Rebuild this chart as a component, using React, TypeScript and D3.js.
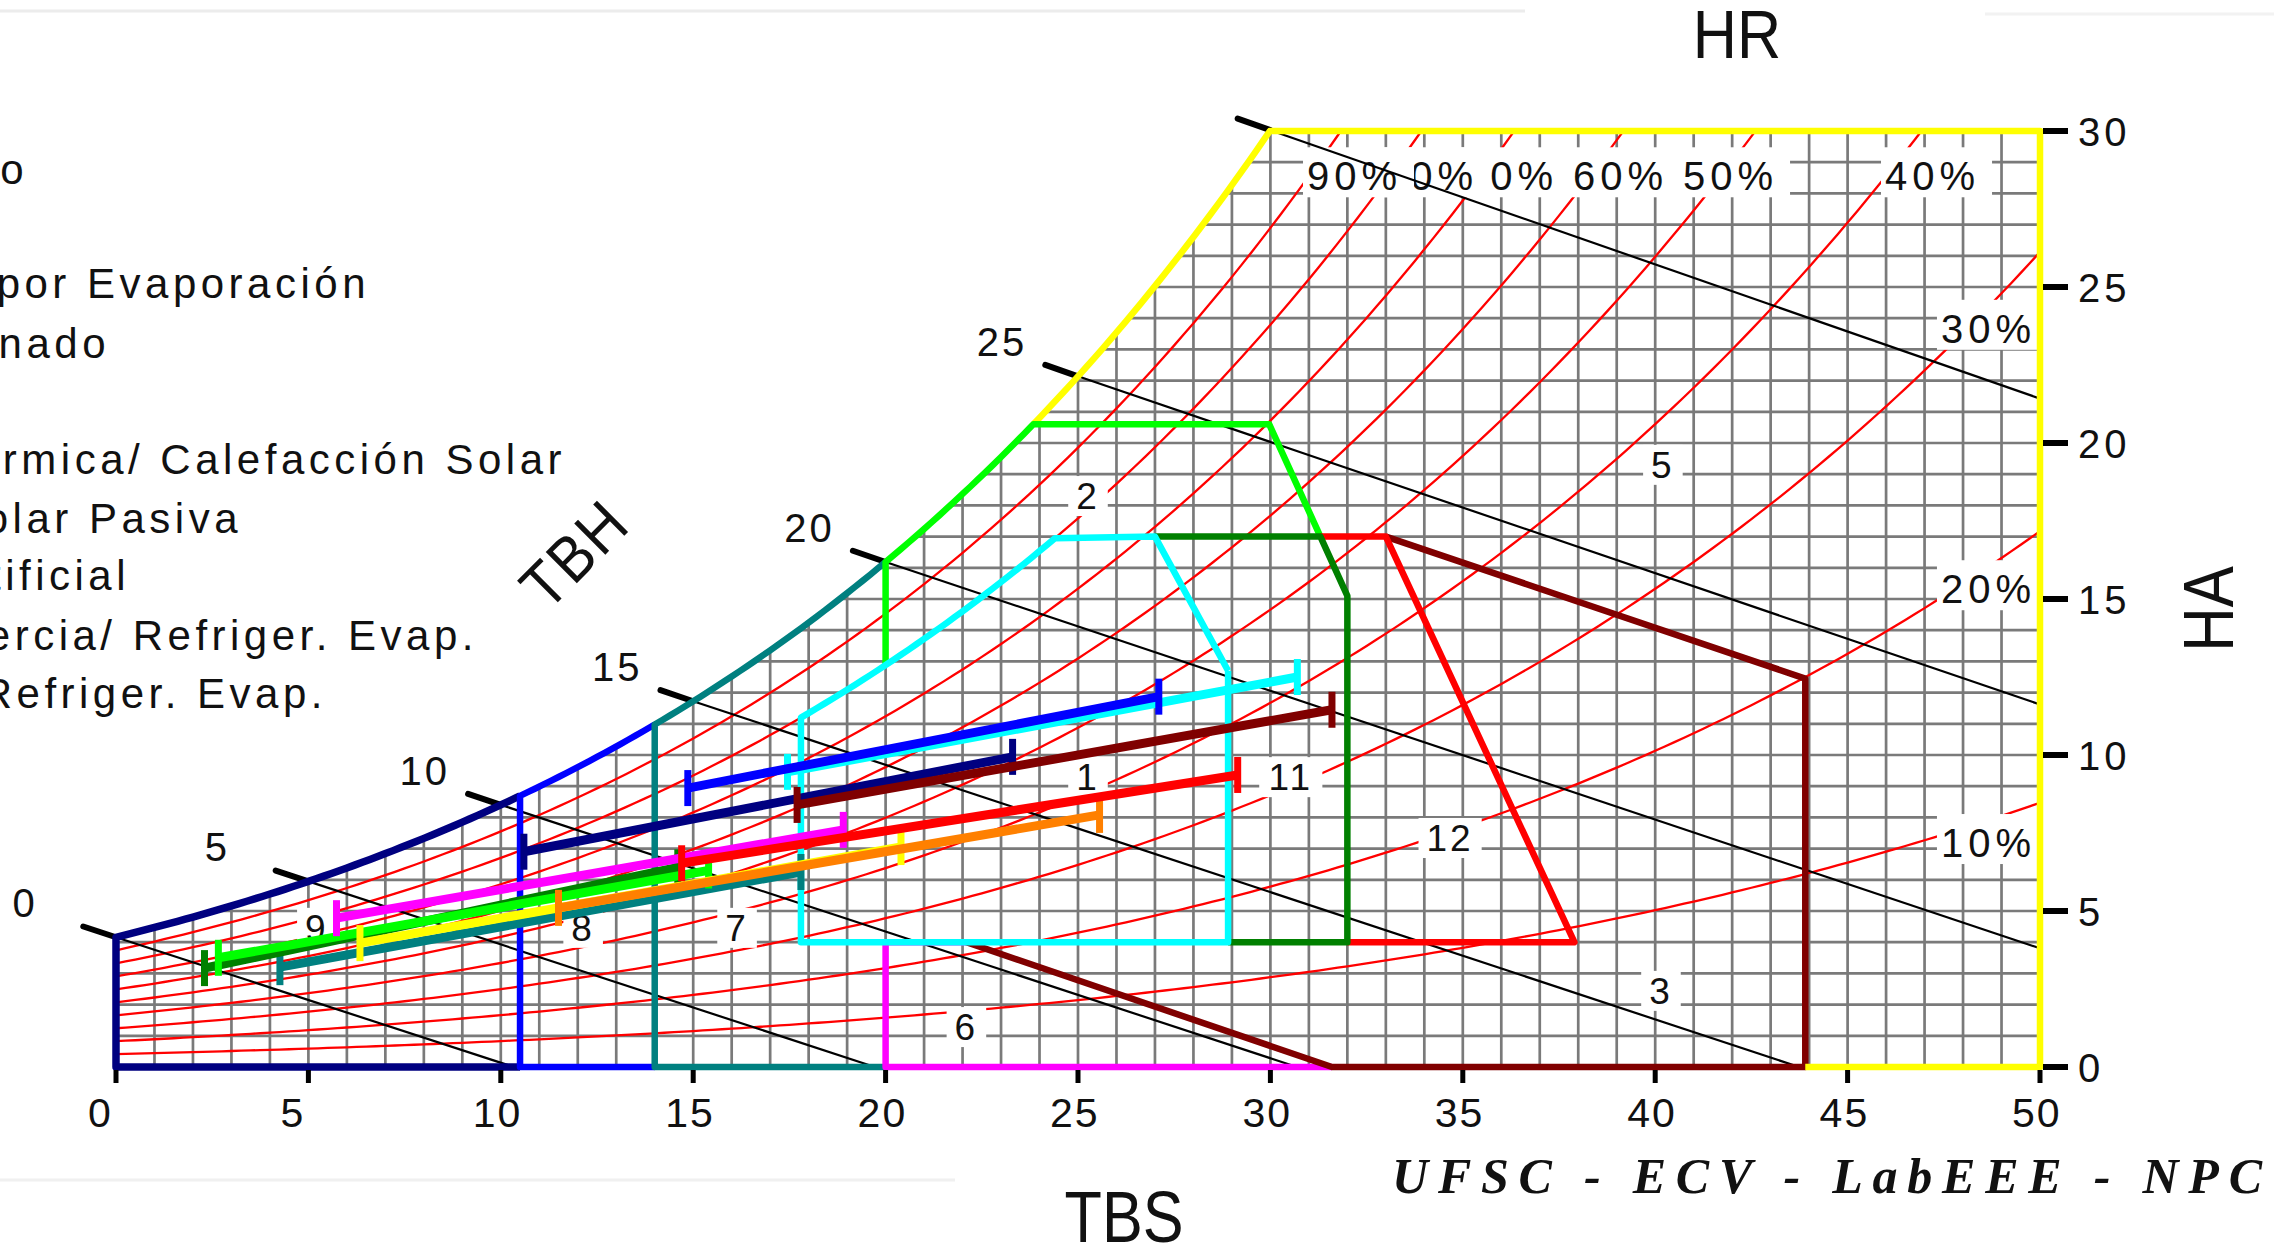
import React from 'react';
import * as d3 from 'd3';

// ---- ejes y curvas de referencia ----
const tbsTicks = [0, 5, 10, 15, 20, 25, 30, 35, 40, 45, 50];
const haTicks = [0, 5, 10, 15, 20, 25, 30];
const rhLevels = [10, 20, 30, 40, 50, 60, 70, 80, 90];
const tbhLevels = [0, 5, 10, 15, 20, 25, 30];
const tbhLabels = ['0', '5', '10', '15', '20', '25'];

// presion local (kPa) ajustada a la curva de saturacion del grafico
const PRESSURE = 92;

// ---- zonas bioclimaticas (TBS, HA) ----
type ZonePt = [number, number] | { sat: [number, number | 'top'] } | { rh: [number, number, number] };

const zoneNavy: ZonePt[] = [[10.5, 0], [0, 0], { sat: [0, 10.5] }];
const zoneBlue: ZonePt[] = [[14, 0], [10.5, 0], { sat: [10.5, 14] }];
const zoneTeal: ZonePt[] = [[20, 0], [14, 0], { sat: [14, 20] }];
const zoneMagenta: ZonePt[] = [[22.1, 4], [20, 4], [20, 0], [31.6, 0]];
const zoneBrown: ZonePt[] = [[22.1, 4], [31.6, 0], [43.9, 0], [43.9, 12.45], [33, 17]];
const zoneYellow: ZonePt[] = [{ sat: [23.84, 'top'] }, [50, 30], [50, 0], [43.9, 0]];
const zoneGreen: ZonePt[] = [[20, 12.9], { sat: [20, 23.84] }, [29.97, 20.6], [31.3, 17]];
const zoneRed: ZonePt[] = [[31.3, 17], [33, 17], [37.9, 4], [32, 4]];
const zoneDarkGreen: ZonePt[] = [[27, 17], [31.3, 17], [32, 15.1], [32, 4], [28.9, 4]];
const zoneCyan: ZonePt[] = [[28.9, 12.7], [28.9, 4], [17.8, 4], { rh: [80, 17.8, 24.4] }, [27, 17], [28.9, 12.7]];

const zones = [
  { pts: zoneNavy, color: '#000080' },
  { pts: zoneBlue, color: '#0000ff' },
  { pts: zoneTeal, color: '#008080' },
  { pts: zoneMagenta, color: '#ff00ff' },
  { pts: zoneBrown, color: '#800000' },
  { pts: zoneYellow, color: '#ffff00' },
  { pts: zoneGreen, color: '#00ff00' },
  { pts: zoneRed, color: '#ff0000' },
  { pts: zoneDarkGreen, color: '#008000' },
  { pts: zoneCyan, color: '#00ffff' },
];

const zoneLabels = [
  { text: '1', t: 25.26, ha: 9.29 },
  { text: '2', t: 25.26, ha: 18.3 },
  { text: '3', t: 40.15, ha: 2.44 },
  { text: '5', t: 40.2, ha: 19.3 },
  { text: '6', t: 22.1, ha: 1.28 },
  { text: '7', t: 16.14, ha: 4.46 },
  { text: '8', t: 12.14, ha: 4.46 },
  { text: '9', t: 5.22, ha: 4.46 },
  { text: '11', t: 30.53, ha: 9.29 },
  { text: '12', t: 34.67, ha: 7.34 },
];

// ---- lineas mensuales (TBS min/max con su HA) ----
const lineColors = ['#008080', '#008000', '#00ff00', '#ffff00', '#ff8000', '#ff00ff', '#ff0000', '#000080', '#800000', '#00ffff', '#0000ff'];
const tbsMin = [4.26, 2.3, 2.66, 6.34, 11.5, 5.73, 14.7, 10.6, 17.7, 17.45, 14.86];
const haAtMin = [3.2, 3.17, 3.5, 3.97, 5.1, 4.77, 6.53, 6.9, 8.4, 9.46, 8.94];
const tbsMax = [17.8, 14.6, 15.4, 20.4, 25.56, 18.9, 29.15, 23.3, 31.6, 30.7, 27.1];
const haAtMax = [6.25, 6.4, 6.3, 7.05, 8.08, 7.6, 9.36, 9.94, 11.45, 12.5, 11.87];

const legendTexts = [
  '3- Inercia Térmica para Enfriamiento',
  '4- Refrigeración por Evaporación',
  '5- Aire Acondicionado',
  '7- Inercia Térmica/ Calefacción Solar',
  '8- Calefacción Solar Pasiva',
  '9- Calefacción Artificial',
  '11- Ventilación/ Inercia/ Refriger. Evap.',
  '12- Inercia/ Refriger. Evap.',
];
const legendEndX = [28, 370, 110, 566, 242, 130, 478, 327];
const legendBaseY = [184, 298, 358, 474, 533, 590, 650, 708];

// posicion horizontal de las etiquetas HR superiores (40% ... 90%)
const rhTopLabelX = [1885, 1683, 1573, 1463, 1383, 1307];

const FONT = '"Liberation Sans", Arial, sans-serif';

// ---- psicrometria ----
const psat = (t: number) => 0.61094 * Math.exp((17.625 * t) / (t + 243.04));
const wFromPv = (pv: number) => (622 * pv) / (PRESSURE - pv);
const wSat = (t: number) => wFromPv(psat(t));
const wRh = (t: number, rh: number) => wFromPv((rh / 100) * psat(t));
const tFromPs = (ps: number) => {
  const a = Math.log(ps / 0.61094);
  return (243.04 * a) / (17.625 - a);
};
const tRh = (w: number, rh: number) => tFromPs(((w * PRESSURE) / (622 + w)) / (rh / 100));
const wWetBulb = (t: number, twb: number) => {
  const ws = wSat(twb) / 1000;
  return (((2501 - 2.326 * twb) * ws - 1.006 * (t - twb)) / (2501 + 1.86 * t - 4.186 * twb)) * 1000;
};
const T_TOP = tRh(30, 100);

const samples = (a: number, b: number, step = 0.2) => {
  const arr = d3.range(a, b, step);
  arr.push(b);
  return arr;
};

const expand = (pts: ZonePt[]): [number, number][] => {
  const out: [number, number][] = [];
  pts.forEach((p) => {
    if (Array.isArray(p)) out.push(p);
    else if ('sat' in p) {
      const t1 = p.sat[1] === 'top' ? T_TOP : p.sat[1];
      samples(p.sat[0], t1).forEach((t) => out.push([t, wSat(t)]));
    } else {
      const [rh, a, b] = p.rh;
      samples(a, b).forEach((t) => out.push([t, wRh(t, rh)]));
    }
  });
  return out;
};

const textW = (s: string, fs: number, ls: number) =>
  s.split('').reduce((acc, c) => acc + (c === '%' ? 0.889 : 0.556) * fs + ls, 0);

const App = () => {
  const x = d3.scaleLinear().domain([0, 50]).range([116, 2040]);
  const y = d3.scaleLinear().domain([0, 30]).range([1067, 131]);
  const line = d3.line<[number, number]>().x((d) => x(d[0])).y((d) => y(d[1]));

  const clipPts: [number, number][] = [
    ...samples(0, T_TOP).map((t) => [t, wSat(t)] as [number, number]),
    [50, 30], [50, 0], [0, 0],
  ];

  const rhPaths = rhLevels.map((rh) => line(samples(0, 50, 0.25).map((t) => [t, Math.min(wRh(t, rh), 34)] as [number, number])));

  const wetBulb = tbhLevels.map((twb) => {
    const ws = wSat(twb);
    const w50 = wWetBulb(50, twb);
    const end: [number, number] = w50 > 0 ? [50, w50] : [twb + ((2501 - 2.326 * twb) * ws / 1000) / 1.006, 0];
    const tickStart: [number, number] = [twb - 0.85, wWetBulb(twb - 0.85, twb)];
    return { twb, start: [twb, ws] as [number, number], end, tickStart };
  });

  const rhLabelItems = rhLevels.map((rh) => {
    const txt = `${rh}%`;
    const tw = textW(txt, 40, 5);
    if (rh >= 40) {
      return { txt, lx: rhTopLabelX[(rh - 40) / 10], by: y(28.1), tw };
    }
    return { txt, lx: 2036 - tw, by: y(wRh(48.7, rh) - 1.2), tw };
  });

  return (
    <svg width={2274} height={1253} viewBox="0 0 2274 1253" style={{ position: 'absolute', left: 0, top: 0, background: '#fff' }}>
      <defs>
        <clipPath id="chartArea">
          <path d={line(clipPts) + 'Z'} />
        </clipPath>
      </defs>
      <rect x={0} y={0} width={2274} height={1253} fill="#fff" />
      <line x1={0} x2={1525} y1={11} y2={11} stroke="#ececec" strokeWidth={3} />
      <line x1={1985} x2={2274} y1={14} y2={14} stroke="#f2f2f2" strokeWidth={3} />
      <line x1={0} x2={955} y1={1180} y2={1180} stroke="#f0f0f0" strokeWidth={3} />

      {/* leyenda (recortada a la izquierda) */}
      {legendTexts.map((t, i) => (
        <text key={t} x={legendEndX[i]} y={legendBaseY[i]} textAnchor="end" fontFamily={FONT} fontSize={42} letterSpacing={4.5} fill="#111">
          {t}
        </text>
      ))}

      {/* malla */}
      <g clipPath="url(#chartArea)">
        {d3.range(0, 51).map((t) => (
          <line key={`v${t}`} x1={x(t)} x2={x(t)} y1={y(0)} y2={y(30)} stroke="#7a7a7a" strokeWidth={2.7} />
        ))}
        {d3.range(0, 31).map((h) => (
          <line key={`h${h}`} x1={x(0)} x2={x(50)} y1={y(h)} y2={y(h)} stroke="#7a7a7a" strokeWidth={2.7} />
        ))}
        {rhPaths.map((d, i) => (
          <path key={`rh${i}`} d={d || ''} fill="none" stroke="#ff0000" strokeWidth={2.3} />
        ))}
      </g>

      {/* etiquetas HR */}
      {rhLabelItems.map((l) => (
        <g key={l.txt}>
          <rect x={l.lx - 4} y={l.by - 43} width={l.tw + 16} height={50} fill="#fff" />
          <text x={l.lx} y={l.by} fontFamily={FONT} fontSize={40} letterSpacing={5} fill="#111">{l.txt}</text>
        </g>
      ))}

      {/* etiquetas de zonas */}
      {zoneLabels.map((z) => {
        const tw = textW(z.text, 37, 3);
        return (
          <g key={z.text}>
            <rect x={x(z.t) - tw / 2 - 8} y={y(z.ha) - 20} width={tw + 16} height={40} fill="#fff" />
            <text x={x(z.t)} y={y(z.ha) + 13} textAnchor="middle" fontFamily={FONT} fontSize={37} letterSpacing={3} fill="#111">{z.text}</text>
          </g>
        );
      })}

      {/* lineas de bulbo humedo */}
      {wetBulb.map((wb, i) => (
        <g key={`wb${wb.twb}`}>
          <path d={line([wb.start, wb.end]) || ''} stroke="#000" strokeWidth={2.2} fill="none" />
          <path d={line([wb.tickStart, wb.start]) || ''} stroke="#000" strokeWidth={6} strokeLinecap="round" fill="none" />
          {tbhLabels[i] !== undefined && (
            <text
              x={x(wb.start[0]) - (tbhLabels[i].length > 1 ? 76 : 91)}
              y={y(wb.start[1]) - 34}
              dominantBaseline="central"
              textAnchor="middle"
              fontFamily={FONT}
              fontSize={40}
              letterSpacing={3}
              fill="#111"
            >
              {tbhLabels[i]}
            </text>
          )}
        </g>
      ))}

      {/* zonas */}
      {zones.map((z, i) => (
        <path key={`z${i}`} d={line(expand(z.pts)) || ''} fill="none" stroke={z.color} strokeWidth={z.color === '#000080' ? 7.5 : 6.5} strokeLinejoin="round" />
      ))}

      {/* lineas mensuales */}
      {lineColors.map((c, i) => (
        <g key={`m${i}`} stroke={c} fill="none">
          <line x1={x(tbsMin[i])} y1={y(haAtMin[i])} x2={x(tbsMax[i])} y2={y(haAtMax[i])} strokeWidth={9} />
          <line x1={x(tbsMin[i])} x2={x(tbsMin[i])} y1={y(haAtMin[i]) - 18} y2={y(haAtMin[i]) + 18} strokeWidth={7} />
          <line x1={x(tbsMax[i])} x2={x(tbsMax[i])} y1={y(haAtMax[i]) - 18} y2={y(haAtMax[i]) + 18} strokeWidth={7} />
        </g>
      ))}

      {/* eje TBS */}
      {tbsTicks.map((t) => (
        <g key={`xt${t}`}>
          <line x1={x(t)} x2={x(t)} y1={y(0) + 3} y2={y(0) + 16} stroke="#000" strokeWidth={5} />
          <text x={x(t) - 28} y={1127} fontFamily={FONT} fontSize={41} letterSpacing={2} fill="#111">{t}</text>
        </g>
      ))}
      {/* eje HA */}
      {haTicks.map((h) => (
        <g key={`yt${h}`}>
          <line x1={x(50) + 3} x2={x(50) + 28} y1={y(h)} y2={y(h)} stroke="#000" strokeWidth={6} />
          <text x={2078} y={y(h) + 1} dominantBaseline="central" fontFamily={FONT} fontSize={40} letterSpacing={4} fill="#111">{h}</text>
        </g>
      ))}

      {/* titulos */}
      <text transform="translate(1737,58) scale(0.9,1)" textAnchor="middle" fontFamily={FONT} fontSize={68} fill="#111">HR</text>
      <text transform="translate(1124,1242) scale(0.85,1)" textAnchor="middle" fontFamily={FONT} fontSize={72} fill="#111">TBS</text>
      <text transform="translate(2233,609) rotate(-90) scale(0.88,1)" textAnchor="middle" fontFamily={FONT} fontSize={70} fill="#111">HA</text>
      <text transform="translate(590,570) rotate(-45) scale(0.9,1)" textAnchor="middle" fontFamily={FONT} fontSize={64} letterSpacing={2} fill="#111">TBH</text>
      <text x={1392} y={1193} textLength={870} lengthAdjust="spacing" fontFamily='"Liberation Serif", "Times New Roman", serif' fontWeight="bold" fontStyle="italic" fontSize={50} fill="#111">
        UFSC - ECV - LabEEE - NPC
      </text>
    </svg>
  );
};

export default App;
